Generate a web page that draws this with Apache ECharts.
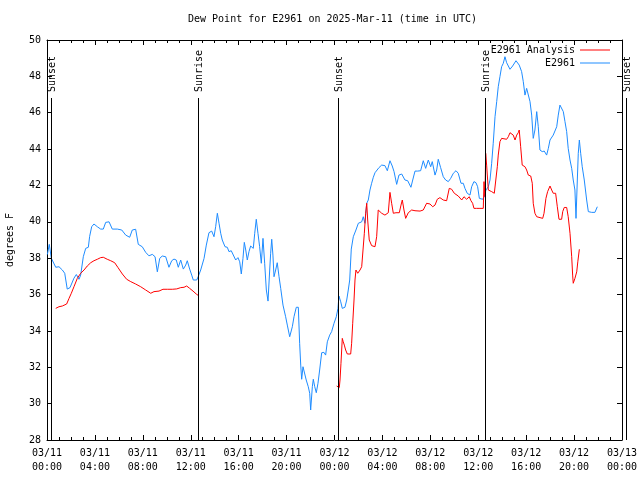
<!DOCTYPE html>
<html><head><meta charset="utf-8">
<script src="https://cdn.jsdelivr.net/npm/echarts@6/dist/echarts.min.js"></script>
<style>html,body{margin:0;padding:0;background:#fff}#c{width:640px;height:480px}</style>
</head><body><div id="c"></div>
<script>
// x values are hours since 2025-03-11 00:00 UTC
const xTickLabels = ['03/11\n00:00','03/11\n04:00','03/11\n08:00','03/11\n12:00','03/11\n16:00','03/11\n20:00',
  '03/12\n00:00','03/12\n04:00','03/12\n08:00','03/12\n12:00','03/12\n16:00','03/12\n20:00','03/13\n00:00'];
const sunHours = [0.31, 12.63, 24.32, 36.58, 48.33];
const sunLabels = ['Sunset', 'Sunrise', 'Sunset', 'Sunrise', 'Sunset'];

const obsHours = [0.03,0.19,0.36,0.73,1.00,1.28,1.48,1.69,1.92,2.25,2.45,2.67,2.81,3.03,3.23,3.45,3.56,3.73,3.92,4.20,
  4.48,4.70,4.90,5.18,5.45,5.87,6.24,6.57,6.90,7.12,7.40,7.62,7.95,8.24,8.51,8.79,9.02,9.21,9.41,9.62,
  9.91,10.18,10.41,10.60,10.79,10.96,11.16,11.38,11.58,11.71,11.91,12.08,12.21,12.50,12.63,12.83,13.11,13.30,13.52,13.75,
  13.94,14.08,14.22,14.36,14.50,14.63,14.86,15.05,15.19,15.38,15.53,15.75,15.94,16.09,16.22,16.36,16.47,16.59,16.72,16.86,
  17.00,17.22,17.34,17.47,17.61,17.75,17.89,18.03,18.17,18.31,18.45,18.59,18.67,18.76,18.86,18.95,19.09,19.22,19.37,19.51,
  19.70,19.92,20.06,20.26,20.48,20.62,20.81,20.98,21.09,21.18,21.26,21.37,21.51,21.64,21.81,21.93,22.01,22.15,22.23,22.35,
  22.48,22.62,22.76,22.93,23.12,23.26,23.40,23.60,23.76,23.96,24.15,24.29,24.37,24.52,24.65,24.87,25.02,25.15,25.27,25.40,
  25.57,25.79,25.99,26.27,26.40,26.54,26.69,26.82,26.96,27.10,27.24,27.38,27.52,27.71,27.94,28.21,28.41,28.63,28.82,28.97,
  29.19,29.38,29.61,29.88,30.11,30.38,30.53,30.72,30.94,31.19,31.41,31.61,31.83,32.03,32.16,32.39,32.53,32.66,32.86,33.08,
  33.28,33.50,33.70,33.92,34.14,34.33,34.56,34.75,34.89,35.08,35.31,35.45,35.64,35.81,35.95,36.09,36.20,36.37,36.50,36.64,
  36.84,36.98,37.12,37.25,37.40,37.54,37.67,37.81,37.95,38.09,38.23,38.37,38.65,38.87,39.15,39.42,39.62,39.76,39.90,40.04,
  40.18,40.32,40.46,40.59,40.73,40.88,41.01,41.15,41.34,41.51,41.71,41.85,41.99,42.26,42.40,42.55,42.68,42.82,42.96,43.10,
  43.24,43.38,43.51,43.66,43.80,43.93,44.07,44.16,44.27,44.35,44.44,44.55,44.68,44.85,45.05,45.19,45.47,45.74,45.94];
const obsValues = [38.2,38.76,38.0,37.5,37.53,37.35,37.17,36.3,36.38,36.9,37.1,36.84,37.07,38.08,38.54,38.6,39.2,39.73,39.88,39.73,
  39.6,39.6,39.97,40.0,39.6,39.6,39.55,39.27,39.15,39.55,39.59,38.76,38.63,38.32,38.13,38.21,38.08,37.25,37.99,38.12,
  38.08,37.5,37.86,37.95,37.9,37.5,37.9,37.4,37.62,37.86,37.4,37.07,36.8,36.8,37.0,37.35,37.99,38.72,39.4,39.49,
  39.18,39.73,40.47,39.92,39.37,39.0,38.63,38.6,38.36,38.41,38.45,37.9,38.03,37.8,37.13,37.99,38.87,38.45,37.9,38.36,
  38.67,38.54,39.37,40.14,39.37,38.63,37.72,39.09,37.72,36.25,35.64,37.35,38.27,39.04,38.17,36.98,37.35,37.75,36.98,36.34,
  35.42,34.78,34.32,33.68,34.23,34.78,35.3,35.3,33.32,32.12,31.34,32.03,32.12,31.3,30.93,30.57,29.65,30.93,31.34,30.93,
  30.6,31.12,31.85,32.8,32.82,32.67,33.4,33.77,33.96,34.42,34.78,35.24,35.92,35.6,35.24,35.3,35.7,36.25,36.8,38.5,
  39.18,39.55,39.92,40.0,40.28,39.92,41.02,41.2,41.75,42.12,42.45,42.7,42.81,42.98,43.12,43.09,42.81,43.36,43.07,42.76,
  42.06,42.57,42.63,42.3,42.26,41.9,42.3,42.79,42.79,42.81,43.36,42.94,43.4,43.03,43.31,42.57,42.85,43.44,42.98,42.48,
  42.3,42.21,42.39,42.67,42.81,42.67,42.12,42.12,41.84,41.57,41.47,41.93,42.21,42.15,41.93,41.29,41.2,41.24,41.38,41.75,
  41.93,42.3,43.22,44.32,45.78,46.61,47.43,47.98,48.53,48.72,49.08,48.75,48.39,48.57,48.86,48.62,48.26,47.71,46.97,47.34,
  47.43,46.61,45.87,44.59,45.05,46.06,45.23,43.95,43.86,43.89,43.67,44.04,44.5,44.77,44.77,45.23,45.87,46.42,46.51,46.06,
  45.51,44.96,44.04,43.4,42.94,42.3,41.75,40.19,42.3,43.77,44.5,43.77,43.03,42.3,41.2,40.56,40.52,40.52,40.83];

const anaHours = [0.73,1.00,1.28,1.64,1.84,2.03,2.25,2.53,2.81,3.09,3.36,3.65,3.92,4.20,4.48,4.70,5.03,5.32,5.65,5.93,
  6.29,6.65,6.99,7.40,7.82,8.24,8.66,8.93,9.35,9.68,10.04,10.46,10.83,11.16,11.44,11.66,11.91,12.19,12.46,12.69,
  18.00,
  24.18,24.40,24.46,24.54,24.65,24.73,24.82,24.93,25.07,25.35,25.43,25.52,25.63,25.71,25.79,25.94,26.13,26.27,26.40,26.49,
  26.60,26.69,26.77,26.90,27.10,27.38,27.52,27.65,27.94,28.21,28.49,28.63,28.77,28.91,29.13,29.41,29.55,29.66,29.80,29.94,
  30.16,30.44,30.72,31.14,31.41,31.69,31.97,32.20,32.39,32.58,32.80,33.08,33.36,33.58,33.78,34.00,34.33,34.62,34.81,35.03,
  35.25,35.39,35.53,35.64,35.87,36.14,36.42,36.48,36.56,36.62,36.70,36.84,37.12,37.34,37.48,37.59,37.67,37.81,37.95,38.09,
  38.37,38.51,38.65,38.79,38.92,39.07,39.21,39.34,39.42,39.54,39.67,39.90,40.04,40.18,40.38,40.51,40.59,40.73,40.88,41.01,
  41.38,41.49,41.65,41.79,41.99,42.13,42.26,42.46,42.60,42.74,42.96,43.05,43.18,43.38,43.51,43.66,43.80,43.88,43.93,44.07,
  44.22,44.31,44.44];
const anaValues = [35.24,35.33,35.37,35.48,35.79,36.07,36.43,36.89,37.17,37.35,37.57,37.75,37.86,37.94,38.03,38.05,37.94,37.86,37.75,37.48,
  37.13,36.84,36.71,36.58,36.43,36.25,36.07,36.16,36.19,36.29,36.29,36.29,36.31,36.38,36.4,36.47,36.34,36.19,36.03,35.92,
  null,
  30.97,30.88,31.3,32.22,33.59,33.4,33.22,32.95,32.73,32.73,33.32,34.42,35.7,36.8,37.35,37.17,37.35,37.53,37.44,39.37,
  40.47,41.02,40.1,39.0,38.69,38.63,39.18,40.65,40.47,40.37,40.5,41.62,41.02,40.47,40.5,40.5,40.92,41.2,40.65,40.19,
  40.5,40.65,40.61,40.59,40.65,41.02,40.98,40.83,40.92,41.24,41.33,41.2,41.16,41.84,41.79,41.57,41.42,41.2,41.38,41.24,
  41.38,41.16,41.02,40.74,40.74,40.74,40.74,42.21,41.38,43.77,43.12,41.75,41.66,41.57,41.47,43.03,43.67,44.41,44.59,44.5,
  44.54,44.68,44.9,44.9,44.77,44.5,44.77,44.9,45.05,44.13,43.12,43.03,42.85,42.57,42.52,42.12,41.02,40.47,40.28,40.19,
  40.19,40.47,41.29,41.66,41.97,41.75,41.57,41.57,40.83,40.14,40.14,40.56,40.79,40.79,40.28,39.37,38.08,37.07,36.62,36.89,
  37.25,37.8,38.49];

const FONT = '"DejaVu Sans Mono", "Liberation Mono", monospace';
const txt = {fontFamily: FONT, fontSize: 10, color: '#000'};
const pair = (xs, ys) => xs.map((x, i) => [x, ys[i] === null ? '-' : ys[i]]);

const chart = echarts.init(document.getElementById('c'), null, {renderer: 'canvas'});
const axisBase = {
  min: 0, max: 48, interval: 4,
  axisLine: {show: true, onZero: false, lineStyle: {color: '#000', width: 1}},
  axisTick: {show: true, inside: true, length: 5, lineStyle: {color: '#000'}},
  minorTick: {show: true, splitNumber: 4, length: 3, lineStyle: {color: '#000'}},
  splitLine: {show: false}
};
const yBase = {
  min: 28, max: 50, interval: 2,
  axisLine: {show: true, onZero: false, lineStyle: {color: '#000', width: 1}},
  axisTick: {show: true, inside: true, length: 5, lineStyle: {color: '#000'}},
  splitLine: {show: false}
};
chart.setOption({
  animation: false,
  backgroundColor: '#fff',
  title: {text: 'Dew Point for E2961 on 2025-Mar-11 (time in UTC)', left: 188, top: 14, padding: 0,
    textStyle: Object.assign({fontWeight: 'normal'}, txt)},
  grid: {left: 47, right: 18, top: 40, bottom: 40, containLabel: false, outerBoundsMode: 'none'},
  legend: [
    {data: ['E2961 Analysis'], right: 30, top: 45, align: 'right', icon: 'rect', itemWidth: 30, itemHeight: 1, padding: 0,
      textStyle: txt, selectedMode: false},
    {data: ['E2961'], right: 30, top: 58, align: 'right', icon: 'rect', itemWidth: 30, itemHeight: 1, padding: 0,
      textStyle: txt, selectedMode: false}
  ],
  xAxis: [
    Object.assign({type: 'value', position: 'bottom',
      axisLabel: Object.assign({margin: 6, lineHeight: 14, formatter: v => xTickLabels[Math.round(v / 4)]}, txt)}, axisBase),
    Object.assign({type: 'value', position: 'top', axisLabel: {show: false}}, axisBase)
  ],
  yAxis: [
    Object.assign({type: 'value', position: 'left', name: 'degrees F', nameLocation: 'middle', nameGap: 32, nameRotate: 90,
      nameTextStyle: txt, axisLabel: Object.assign({margin: 6}, txt)}, yBase),
    Object.assign({type: 'value', position: 'right', axisLabel: {show: false}}, yBase)
  ],
  series: [
    {name: 'E2961 Analysis', type: 'line', data: pair(anaHours, anaValues), symbol: 'none', showSymbol: false,
      connectNulls: false, color: '#ff0000', lineStyle: {width: 1, color: '#ff0000'}, z: 3},
    {name: 'E2961', type: 'line', data: pair(obsHours, obsValues), symbol: 'none', showSymbol: false,
      color: '#1e8cff', lineStyle: {width: 1, color: '#1e8cff'}, z: 2},
    {name: 'sun', type: 'custom', data: sunHours.map(h => [h]), encode: {x: 0}, clip: false, z: 5, silent: true,
      renderItem: (params, api) => {
        const x = Math.round(api.coord([api.value(0), 40])[0]) + 0.5;
        const cs = params.coordSys;
        return {type: 'group', children: [
          {type: 'line', shape: {x1: x, y1: cs.y + 58, x2: x, y2: cs.y + cs.height},
            style: {stroke: '#000', lineWidth: 1}},
          {type: 'text', x: x + 1, y: cs.y + 52, rotation: Math.PI / 2,
            style: {text: sunLabels[params.dataIndex], fill: '#000', font: '10px ' + FONT,
              align: 'left', verticalAlign: 'middle'}}
        ]};
      }}
  ]
});
</script></body></html>
